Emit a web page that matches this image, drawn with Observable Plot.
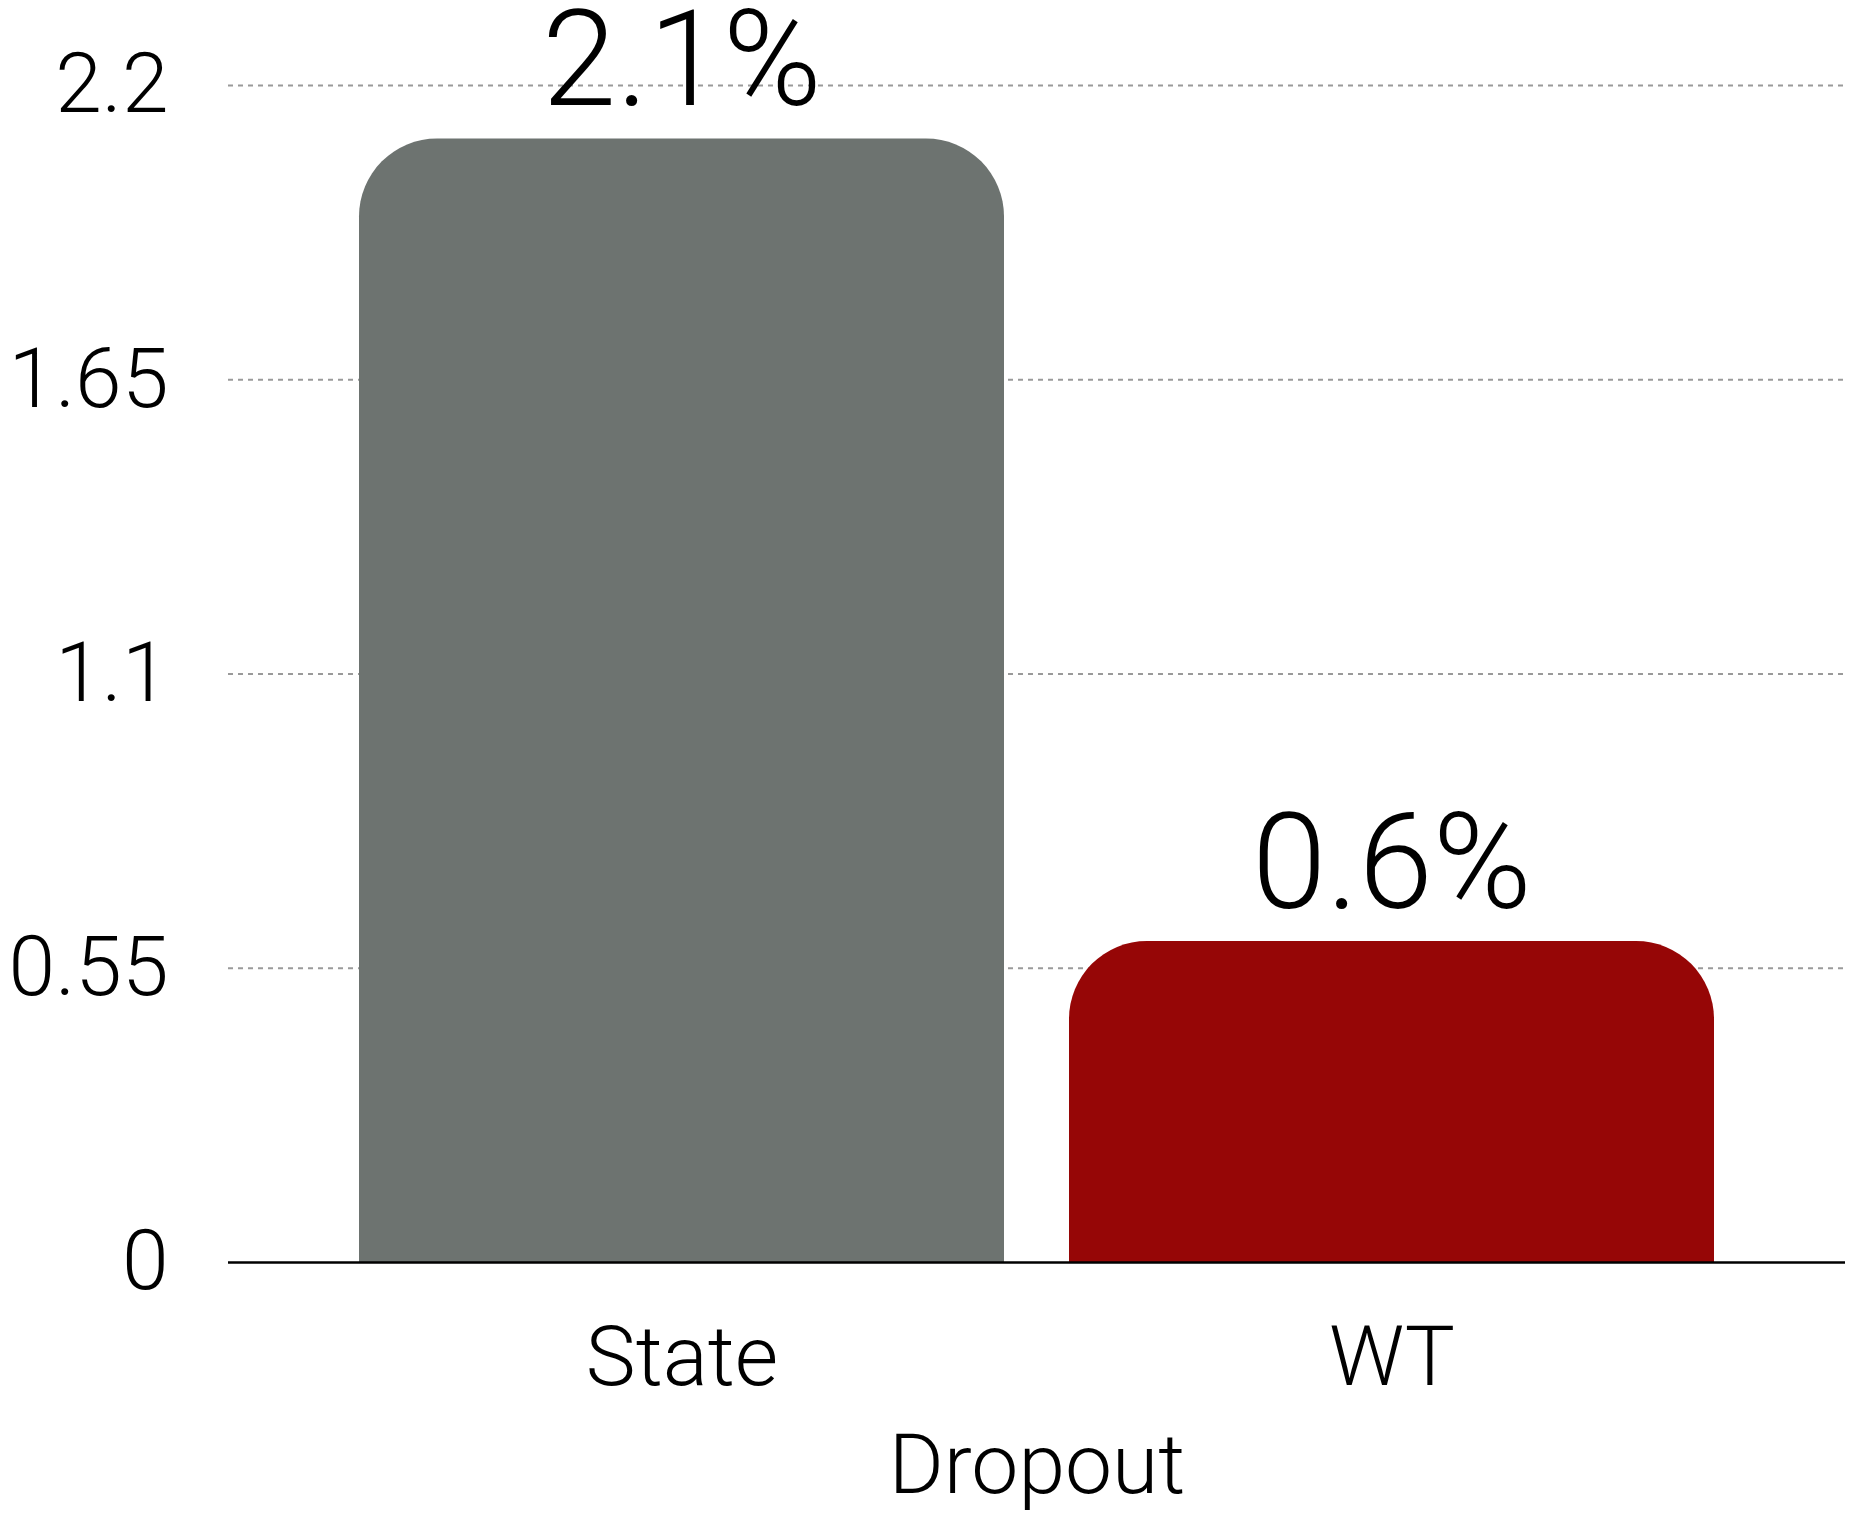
<!DOCTYPE html>
<html>
<head>
<meta charset="utf-8">
<script src="https://cdn.jsdelivr.net/npm/d3@7"></script>
<script src="https://cdn.jsdelivr.net/npm/@observablehq/plot@0.6"></script>
<style>
  html, body { margin: 0; padding: 0; background: #fff; }
  #chart svg { display: block; overflow: visible; }
</style>
</head>
<body>
<div id="chart"></div>
<script>
const categories = ["State", "WT"];
const values = [2.1, 0.6];
const yTicks = [0, 0.55, 1.1, 1.65, 2.2];
const xLabel = "Dropout";
const barColors = ["#6d7370", "#960606"];

const data = categories.map((c, i) => ({category: c, value: values[i]}));

const fontFamily = "'Helvetica Neue', Roboto, 'Liberation Sans', sans-serif";

const chart = Plot.plot({
  width: 1854,
  height: 1513,
  marginLeft: 228,
  marginRight: 9,
  marginTop: 85,
  marginBottom: 251,
  style: {fontFamily, fontSize: "84px", fontWeight: 300, color: "#000", background: "#fff", overflow: "visible"},
  x: {domain: categories, paddingInner: 0.091, paddingOuter: 0.184, label: null},
  y: {domain: [0, 2.2], ticks: yTicks, label: null},
  color: {domain: categories, range: barColors},
  marks: [
    Plot.gridY(yTicks.filter(d => d > 0), {stroke: "#9a9a9a", strokeOpacity: 1, strokeWidth: 2, strokeDasharray: "5,5"}),
    Plot.barY(data, {x: "category", y: "value", fill: "category", ry1: 78}),
    Plot.ruleY([0], {stroke: "#000", strokeWidth: 2.5}),
    Plot.text(data, {x: "category", y: "value", text: d => d.value.toFixed(1) + "%", fontSize: 134, lineAnchor: "bottom", dy: -34, fill: "#000", ariaLabel: "value-labels"}),
    Plot.axisY(yTicks, {tickSize: 0, tickPadding: 60, tickFormat: d => String(d), label: null}),
    Plot.axisX({tickSize: 0, tickPadding: 63, label: xLabel, labelAnchor: "center", labelOffset: 230, labelArrow: "none"})
  ]
});

d3.select(chart).selectAll('g[aria-label="value-labels"] text')
  .style("filter", "drop-shadow(1px 3px 2px rgba(0,0,0,0.45))");

document.getElementById("chart").appendChild(chart);
</script>
</body>
</html>
